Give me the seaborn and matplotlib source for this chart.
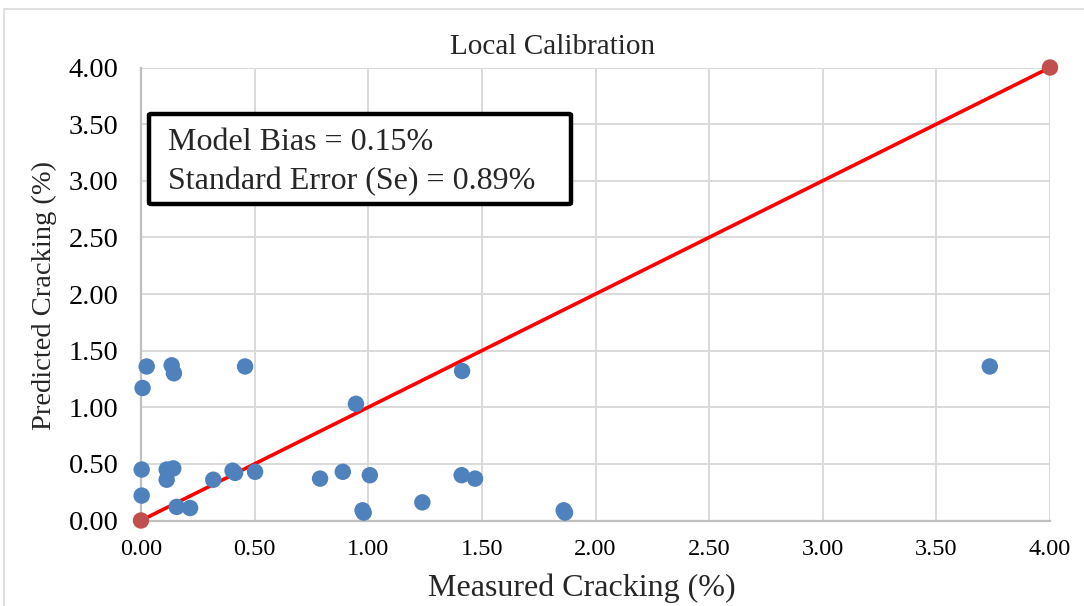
import matplotlib
matplotlib.use("Agg")
import matplotlib.pyplot as plt
from matplotlib.patches import Rectangle, FancyBboxPatch
import seaborn as sns
import pandas as pd

# Measured vs predicted cracking (%) per section
measured = [0.025, 0.135, 0.145, 0.458, 0.007, 0.946, 0.003, 0.113, 0.142,
            0.113, 0.003, 0.157, 0.216, 0.318, 0.403, 0.414, 0.502, 0.788,
            0.888, 1.007, 0.975, 0.980, 1.238, 1.411, 1.470, 1.860, 1.866,
            1.413, 3.735]
predicted = [1.36, 1.37, 1.30, 1.36, 1.17, 1.03, 0.45, 0.45, 0.46,
             0.36, 0.22, 0.12, 0.11, 0.36, 0.44, 0.42, 0.43, 0.37,
             0.43, 0.40, 0.09, 0.07, 0.16, 0.40, 0.37, 0.09, 0.07,
             1.32, 1.36]

# Line of equality
line_x = [0.0, 4.0]
line_y = [0.0, 4.0]

ticks = [0.0, 0.5, 1.0, 1.5, 2.0, 2.5, 3.0, 3.5, 4.0]
title = "Local Calibration"
x_label = "Measured Cracking (%)"
y_label = "Predicted Cracking (%)"
stats_lines = ["Model Bias = 0.15%", "Standard Error (Se) = 0.89%"]

sns.set_theme(style="white")
plt.rcParams["font.family"] = ["Liberation Serif", "DejaVu Serif"]

W, H = 1084, 606
fig = plt.figure(figsize=(W / 100, H / 100), dpi=100)
ax = fig.add_axes([141 / W, 1 - 520.5 / H, (1050 - 141) / W, (520.5 - 67.5) / H])

# Outer chart frame
fig.patches.append(Rectangle((4 / W, -0.1), 1.2, 1 - 9 / H + 0.1,
                             transform=fig.transFigure, fill=False,
                             edgecolor="#d9d9d9", linewidth=1.2, zorder=0))

df = pd.DataFrame({"measured": measured, "predicted": predicted})
line_df = pd.DataFrame({"x": line_x, "y": line_y})

sns.lineplot(data=line_df, x="x", y="y", color="#ff0000", linewidth=2.6,
             ax=ax, zorder=3)
sns.scatterplot(data=df, x="measured", y="predicted", color="#4f81bd",
                s=140, edgecolor="none", ax=ax, zorder=4, clip_on=False)
sns.scatterplot(data=line_df, x="x", y="y", color="#c0504d", s=140,
                edgecolor="none", ax=ax, zorder=5, clip_on=False)

ax.set_xlim(0, 4)
ax.set_ylim(0, 4)
ax.set_xticks(ticks)
ax.set_yticks(ticks)
ax.set_xticklabels([f"{t:.2f}" for t in ticks], fontsize=17.5)
ax.set_yticklabels([f"{t:.2f}" for t in ticks], fontsize=20.5)
ax.tick_params(axis="x", length=0, pad=13, colors="black")
ax.tick_params(axis="y", length=0, pad=16, colors="black")
ax.grid(True, color="#d9d9d9", linewidth=1.4)
ax.set_axisbelow(True)
for side in ["top", "right"]:
    ax.spines[side].set_visible(False)
for side in ["left", "bottom"]:
    ax.spines[side].set_color("#bfbfbf")
    ax.spines[side].set_linewidth(1.6)
ax.set_xlabel("")
ax.set_ylabel("")

fig.text(553 / W, 1 - 47 / H, title, ha="center", va="center", fontsize=21)
fig.text(582 / W, 1 - 588 / H, x_label, ha="center", va="center", fontsize=23)
fig.text(44 / W, 1 - 296 / H, y_label, ha="center", va="center",
         fontsize=20.5, rotation=90)

# Statistics box
box = FancyBboxPatch((149 / W, 1 - 204 / H), (571 - 149) / W, (204 - 114) / H,
                     boxstyle="round,pad=0,rounding_size=0.002",
                     transform=fig.transFigure, facecolor="white",
                     edgecolor="black", linewidth=3.2, zorder=6)
fig.patches.append(box)
fig.text(168 / W, 1 - 143 / H, stats_lines[0], ha="left", va="center",
         fontsize=23, zorder=7)
fig.text(168 / W, 1 - 182 / H, stats_lines[1], ha="left", va="center",
         fontsize=23, zorder=7)

fig.savefig("out.png", dpi=100)
